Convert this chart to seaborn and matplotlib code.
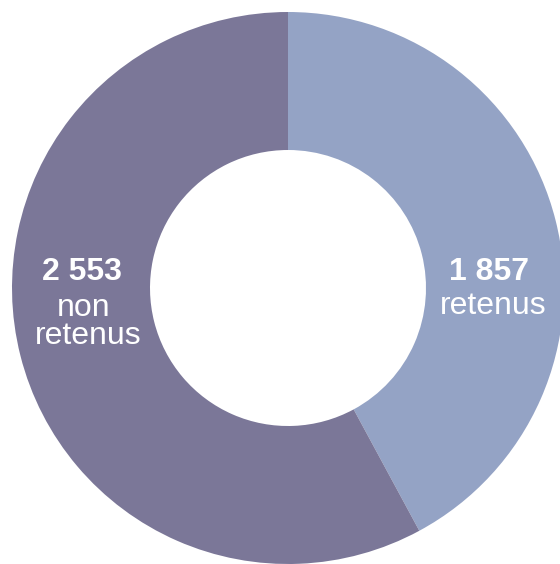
import matplotlib
matplotlib.use("Agg")
import matplotlib.pyplot as plt
import seaborn as sns

# donnees
categories = ["retenus", "non retenus"]
valeurs = [1857, 2553]
libelles_nombre = ["1 857", "2 553"]
libelles_texte = [["retenus"], ["non", "retenus"]]
couleurs = ["#94a3c5", "#7b7798"]

sns.set_theme(style="white")
plt.rcParams['font.family'] = ['Liberation Sans', 'DejaVu Sans']

fig = plt.figure(figsize=(5.60, 5.64), dpi=100)
ax = fig.add_axes([0, 0, 1, 1])

ax.pie(valeurs, colors=couleurs, startangle=90, counterclock=False,
       wedgeprops=dict(width=0.5, linewidth=0))

# positions des etiquettes (texte), rayon ~0.74 dans l'anneau
pos_nombre = [(0.730, 0.029), (-0.745, 0.029)]
pos_lignes = [[(0.743, -0.094)], [(-0.741, -0.101), (-0.725, -0.203)]]

for i in range(len(categories)):
    x, y = pos_nombre[i]
    ax.text(x, y, libelles_nombre[i], color="white", fontsize=23,
            fontweight="bold", ha="center", va="baseline")
    for ligne, (lx, ly) in zip(libelles_texte[i], pos_lignes[i]):
        ax.text(lx, ly, ligne, color="white", fontsize=23,
                ha="center", va="baseline")

ax.set_xlim(-288 / 276, (560 - 288) / 276)
ax.set_ylim(-(564 - 288) / 276, 288 / 276)
ax.set_aspect("equal", adjustable="datalim")
ax.axis("off")

fig.savefig("out.png", dpi=100)
